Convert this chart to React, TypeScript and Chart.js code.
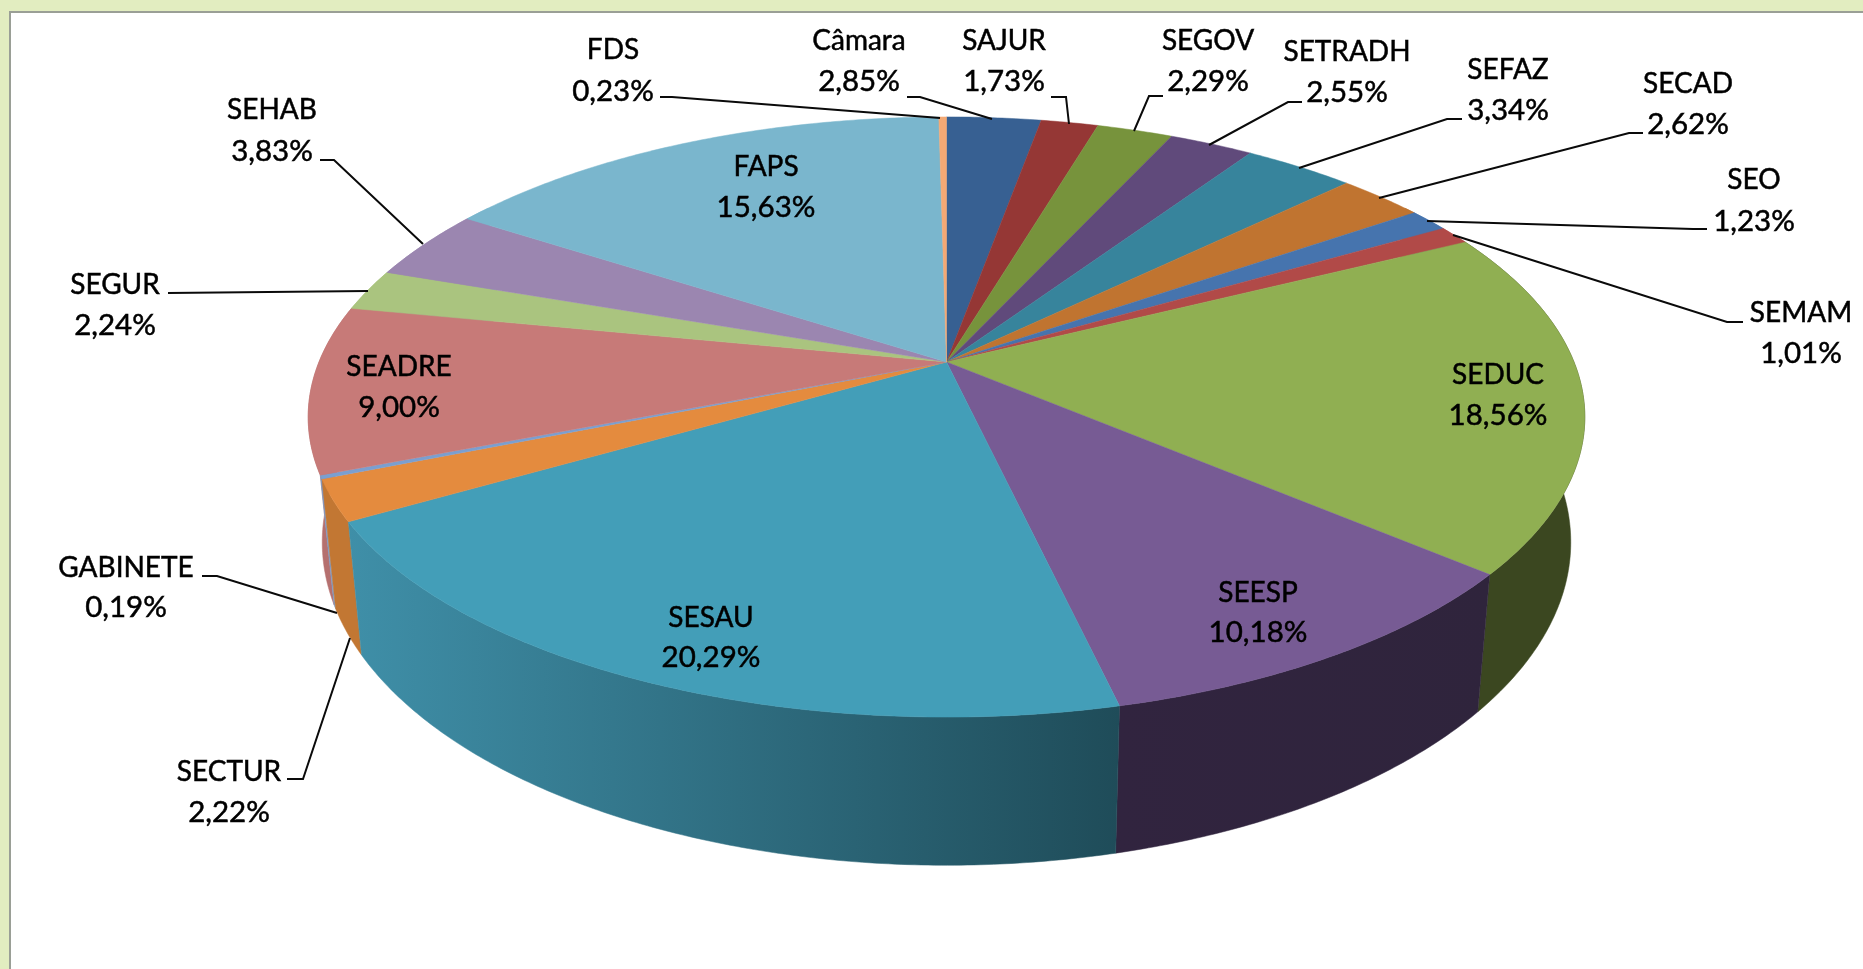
import React, { useEffect, useRef } from "react";
import { Chart, registerables } from "chart.js";

Chart.register(...registerables);

const categories = ["Câmara","SAJUR","SEGOV","SETRADH","SEFAZ","SECAD","SEO","SEMAM","SEDUC","SEESP","SESAU","SECTUR","GABINETE","SEADRE","SEGUR","SEHAB","FAPS","FDS"];
const shares = [2.85,1.73,2.29,2.55,3.34,2.62,1.23,1.01,18.56,10.18,20.29,2.22,0.19,9.0,2.24,3.83,15.63,0.23];
const topColors = ["#376092","#953735","#77933c","#604a7b","#37849c","#c07430","#4674ae","#b14a48","#90af52","#775b94","#439eb8","#e48b3e","#7a9fd0","#c77a78","#aac47f","#9b86b0","#7ab6cd","#f4a974"];
const wallLeft = ["#376092","#953735","#77933c","#604a7b","#37849c","#c07430","#4674ae","#b14a48","#3b4720","#31243f","#3f8fa8","#c27733","#7b9cc9","#b5706f","#aac47f","#9b86b0","#7ab6cd","#f4a974"];
const wallRight = ["#376092","#953735","#77933c","#604a7b","#37849c","#c07430","#4674ae","#b14a48","#3b4720","#2f243c","#1f4c59","#c27733","#7b9cc9","#b5706f","#aac47f","#9b86b0","#7ab6cd","#f4a974"];

// Label layout: [centre x, first line y, second line y]
const labelPlaces = [
  [859,41,81],[1004,41,81],[1208,41,81],[1347,52,92],[1508,70,110],[1688,84,124],[1754,180,221],[1801,313,353],
  [1498,375,415],[1258,593,632],[711,618,657],[229,772,812],[126,568,607],[399,367,407],[115,285,325],[272,110,151],[766,167,207],[613,50,91],
];
// Leader lines, one polyline per label
const leaders = [
  [[907,97],[920,97],[992,119]],
  [[1051,97],[1066,97],[1069,124]],
  [[1163,96],[1149,96],[1134,131]],
  [[1302,102],[1288,102],[1209,145]],
  [[1462,119],[1447,119],[1299,168]],
  [[1643,133],[1629,133],[1379,198]],
  [[1707,229],[1693,229],[1427,221]],
  [[1743,322],[1727,322],[1453,235]],
  null, null, null,
  [[287,779],[303,779],[350,638]],
  [[202,576],[217,576],[337,613]],
  null,
  [[168,293],[368,291]],
  [[320,160],[334,160],[423,244]],
  null,
  [[660,97],[672,97],[940,118]],
];

const CX = 946.5, CY = 362, RX = 627.5, RY = 290, PERSP = 0.1833, DEPTH = 121, SHRINK = 0.978;
const NAME_FONT = '28px Lato';
const VALUE_FONT = '29.5px Lato';

function rim(theta: number) {
  const x = Math.sin(theta), y = -Math.cos(theta);
  const w = 1 - PERSP * y;
  return { x: (RX * x) / w, y: (RY * y) / w, w };
}

const pie3d = {
  id: "pie3d",
  beforeDatasetDraw(chart: any) {
    const ctx = chart.ctx;
    const arcs = chart.getDatasetMeta(0).data;
    const STEP = Math.PI / 360;
    const items = arcs.map((a: any, i: number) => ({
      i,
      a0: a.startAngle + Math.PI / 2,
      a1: a.endAngle + Math.PI / 2,
    }));
    // walls: farthest from the front first
    const walls = [...items].sort(
      (p, q) => Math.abs((q.a0 + q.a1) / 2 - Math.PI) - Math.abs((p.a0 + p.a1) / 2 - Math.PI)
    );
    for (const s of walls) {
      const lo = Math.max(s.a0, Math.PI * 0.3), hi = Math.min(s.a1, Math.PI * 1.7);
      if (hi <= lo) continue;
      const top: any[] = [], bot: any[] = [];
      for (let t = lo; ; t += STEP) {
        const th = Math.min(t, hi);
        const p = rim(th);
        top.push([CX + p.x, CY + p.y]);
        bot.push([CX + p.x * SHRINK, CY + p.y + DEPTH / p.w]);
        if (t >= hi) break;
      }
      const xs = top.concat(bot).map((q) => q[0]);
      const g = ctx.createLinearGradient(Math.min(...xs), 0, Math.max(...xs), 0);
      g.addColorStop(0, wallLeft[s.i]);
      g.addColorStop(1, wallRight[s.i]);
      ctx.beginPath();
      top.forEach((q, k) => (k ? ctx.lineTo(q[0], q[1]) : ctx.moveTo(q[0], q[1])));
      bot.reverse().forEach((q) => ctx.lineTo(q[0], q[1]));
      ctx.closePath();
      ctx.fillStyle = g;
      ctx.strokeStyle = g;
      ctx.lineWidth = 0.5;
      ctx.fill();
      ctx.stroke();
    }
    // top face
    for (const s of items) {
      ctx.beginPath();
      ctx.moveTo(CX, CY);
      for (let t = s.a0; ; t += STEP) {
        const th = Math.min(t, s.a1);
        const p = rim(th);
        ctx.lineTo(CX + p.x, CY + p.y);
        if (t >= s.a1) break;
      }
      ctx.closePath();
      ctx.fillStyle = topColors[s.i];
      ctx.strokeStyle = topColors[s.i];
      ctx.lineWidth = 0.5;
      ctx.fill();
      ctx.stroke();
    }
    return false;
  },
  afterDatasetsDraw(chart: any) {
    const ctx = chart.ctx;
    ctx.save();
    ctx.strokeStyle = "#0a0a0a";
    ctx.lineWidth = 2;
    leaders.forEach((line) => {
      if (!line) return;
      ctx.beginPath();
      line.forEach((q, k) => (k ? ctx.lineTo(q[0], q[1]) : ctx.moveTo(q[0], q[1])));
      ctx.stroke();
    });
    ctx.fillStyle = "#000";
    ctx.strokeStyle = "#000";
    ctx.lineWidth = 0.5;
    ctx.textAlign = "center";
    ctx.textBaseline = "middle";
    categories.forEach((name, i) => {
      const [x, y1, y2] = labelPlaces[i];
      const value = shares[i].toFixed(2).replace(".", ",") + "%";
      ctx.font = NAME_FONT;
      ctx.fillText(name, x, y1);
      ctx.strokeText(name, x, y1);
      ctx.font = VALUE_FONT;
      ctx.fillText(value, x, y2);
      ctx.strokeText(value, x, y2);
    });
    ctx.restore();
  },
};

export default function App() {
  const ref = useRef<HTMLCanvasElement>(null);
  useEffect(() => {
    const chart = new Chart(ref.current as HTMLCanvasElement, {
      type: "pie",
      data: {
        labels: categories,
        datasets: [{ data: shares, backgroundColor: topColors, borderWidth: 0 }],
      },
      options: {
        animation: false,
        responsive: false,
        devicePixelRatio: 1,
        plugins: { legend: { display: false }, tooltip: { enabled: false } },
      },
      plugins: [pie3d],
    } as any);
    return () => chart.destroy();
  }, []);
  return (
    <div style={{ position: "fixed", left: 0, top: 0, width: 1863, height: 969, background: "#e2edc0", overflow: "hidden" }}>
      <div style={{ position: "absolute", left: 9, top: 11, right: 0, bottom: 0, background: "#fff", borderLeft: "2px solid #9a9f96", borderTop: "2px solid #9a9f96" }} />
      <canvas ref={ref} width={1863} height={969} style={{ position: "absolute", left: 0, top: 0, width: 1863, height: 969 }} />
    </div>
  );
}
